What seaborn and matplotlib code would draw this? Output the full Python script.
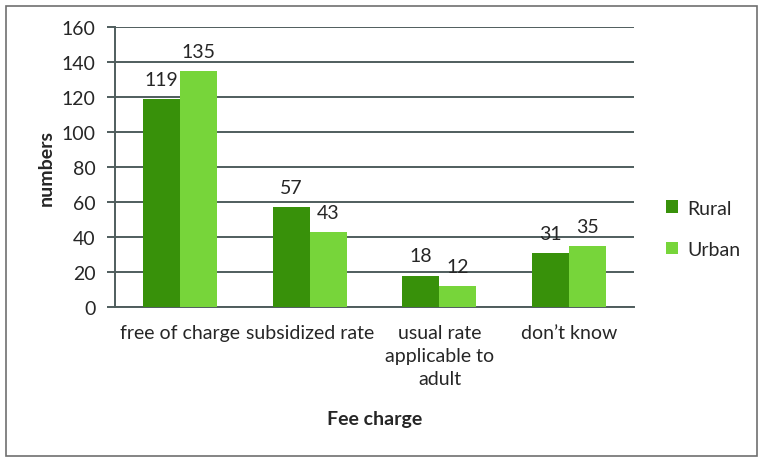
import pandas as pd
import matplotlib.pyplot as plt
import matplotlib.patches as mpatches
import seaborn as sns

categories = ["free of charge", "subsidized rate", "usual rate\napplicable to\nadult", "don\u2019t know"]
rural = [119, 57, 18, 31]
urban = [135, 43, 12, 35]

df = pd.DataFrame({
    "category": categories * 2,
    "value": rural + urban,
    "group": ["Rural"] * 4 + ["Urban"] * 4,
})

sns.set_style("white")
plt.rcParams['font.family'] = ['Lato', 'DejaVu Sans']

fs = 14
fig = plt.figure(figsize=(7.64, 4.64), dpi=100)
ax = fig.add_axes([0.1505, 0.336, 0.6795, 0.6037])

grid_col = "#4f5d5d"
sns.barplot(x="category", y="value", hue="group", data=df, ax=ax,
            palette={"Rural": "#38910a", "Urban": "#77d53a"},
            width=0.57, gap=0, saturation=1, edgecolor="none", zorder=3)

for c in ax.containers:
    ax.bar_label(c, fontsize=fs, padding=8)

ax.set_ylim(0, 160)
ax.set_yticks(range(0, 161, 20))
ax.set_xlim(-0.5, 3.5)
ax.yaxis.grid(True, color=grid_col, linewidth=1.4, zorder=0)
ax.set_axisbelow(True)
for s in ["top", "right"]:
    ax.spines[s].set_visible(False)
for s in ["left", "bottom"]:
    ax.spines[s].set_color(grid_col)
    ax.spines[s].set_linewidth(1.4)

ax.tick_params(axis="x", which="major", length=0, labelsize=fs, pad=12)
for t in ax.get_xticklabels():
    t.set_linespacing(1.45)
ax.set_xticks([-0.5, 0.5, 1.5, 2.5, 3.5], minor=True)
ax.tick_params(axis="x", which="minor", length=6, width=1.4, color=grid_col, direction="out")
ax.tick_params(axis="y", length=6, width=1.4, color=grid_col, direction="out",
               labelsize=fs, left=True, pad=8)

ax.set_xlabel("Fee charge", fontsize=fs, fontweight="bold", labelpad=16)
ax.set_ylabel("numbers", fontsize=fs, fontweight="bold", labelpad=5)

ax.legend(loc="center left", bbox_to_anchor=(1.062, 0.28), frameon=False,
          borderaxespad=0, borderpad=0,
          fontsize=fs, handlelength=0.6, handleheight=0.6, handletextpad=0.5,
          labelspacing=1.25)

fig.patches.append(mpatches.Rectangle((6 / 764, 7 / 464), 751 / 764, 450 / 464,
                                      transform=fig.transFigure, fill=False,
                                      edgecolor="#6f6f6f", linewidth=1.2))

fig.savefig("out.png", dpi=100)
